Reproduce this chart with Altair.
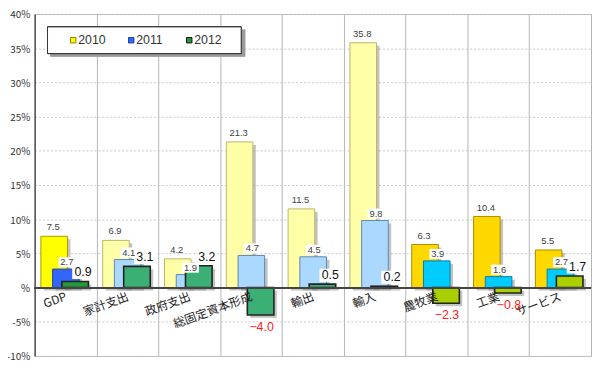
import altair as alt
import pandas as pd

# ---------------- data ----------------
categories = ["GDP", "家計支出", "政府支出", "総固定資本形成", "輸出", "輸入", "農牧業", "工業", "サービス"]
series = ["2010", "2011", "2012"]
v2010 = [7.5, 6.9, 4.2, 21.3, 11.5, 35.8, 6.3, 10.4, 5.5]
v2011 = [2.7, 4.1, 1.9, 4.7, 4.5, 9.8, 3.9, 1.6, 2.7]
v2012 = [0.9, 3.1, 3.2, -4.0, 0.5, 0.2, -2.3, -0.8, 1.7]
y_ticks = [-10, -5, 0, 5, 10, 15, 20, 25, 30, 35, 40]

# ---------------- styles ----------------
group_of = ["A", "B", "B", "B", "B", "B", "C", "C", "C"]
fills = {
    "A": {"2010": "#FFFF00", "2011": "#3366FF", "2012": "#24993A"},
    "B": {"2010": "#FFFFA8", "2011": "#AAD8FF", "2012": "#3BAF74"},
    "C": {"2010": "#FFD800", "2011": "#00CCFF", "2012": "#AACF00"},
}
edges = {
    "A": {"2010": "#A89A00", "2011": "#1F3F99", "2012": "#222222"},
    "B": {"2010": "#BDB56A", "2011": "#5D86B0", "2012": "#222222"},
    "C": {"2010": "#A88C00", "2011": "#0A7EA0", "2012": "#222222"},
}

rows = []
vals = {"2010": v2010, "2011": v2011, "2012": v2012}
for i, c in enumerate(categories):
    for s in series:
        g = group_of[i]
        rows.append({"cat": c, "idx": i, "s": s, "value": vals[s][i],
                     "fill": fills[g][s], "edge": edges[g][s]})
df = pd.DataFrame(rows)

FONT_JP = "Noto Sans CJK JP"
FONT_NUM = "Liberation Sans"

xs = alt.Scale(domain=[0, 9], nice=False, zero=False)
ys = alt.Scale(domain=[-10, 40], nice=False)
x_axis = alt.Axis(values=list(range(10)), grid=True, gridColor="#b5b5b5", gridWidth=1,
                  labels=False, ticks=False, domain=False, title=None)
y_axis = alt.Axis(values=y_ticks, grid=True, gridColor="#c8c8c8", gridDash=[2, 2],
                  labelExpr="datum.value == 0 ? '%' : datum.value + '%'",
                  labelFont=FONT_JP, labelFontSize=10, labelColor="#333333",
                  labelPadding=5, labelOffset=1, ticks=False, domain=True,
                  domainColor="#555555", domainWidth=1.5, title=None)

base = alt.Chart(df).transform_calculate(
    x0="datum.idx + (datum.s == '2010' ? 0.10 : (datum.s == '2011' ? 0.29 : 0.44))",
    x1="datum.x0 + 0.43",
    xc="datum.x0 + 0.215",
    xcat="datum.idx + 0.5",
    label="format(datum.value, '.1f')",
)

X0 = alt.X("x0:Q", scale=xs, axis=x_axis)
X1 = alt.X2("x1:Q")
XC = alt.X("xc:Q", scale=xs, axis=x_axis)
YV = alt.Y("value:Q", scale=ys, axis=y_axis)

# category labels (rotated, at the zero line)
cat_lab = base.transform_filter("datum.s == '2010'").mark_text(
    font=FONT_JP, fontSize=12, color="#222222", align="right", baseline="top",
    angle=340, xOffset=-1, yOffset=4
).encode(x=alt.X("xcat:Q", scale=xs, axis=x_axis), y=alt.datum(0, scale=ys, axis=y_axis),
         text="cat:N")

layers = []
for s in series:
    sub = base.transform_filter(f"datum.s == '{s}'")
    layers.append(sub.mark_bar(color="#7a7a7a", opacity=0.45, xOffset=3, x2Offset=3,
                               yOffset=3, y2Offset=3).encode(
        x=X0, x2=X1, y=YV, y2=alt.datum(0)))
    layers.append(sub.mark_bar(strokeWidth=1.6 if s == "2012" else 1.0).encode(
        x=X0, x2=X1, y=YV, y2=alt.datum(0),
        fill=alt.Fill("fill:N", scale=None),
        stroke=alt.Stroke("edge:N", scale=None)))

zero_rule = alt.Chart(df).mark_rule(color="#444444", strokeWidth=1.2).encode(
    y=alt.datum(0, scale=ys, axis=y_axis))

# value labels
lab10 = base.transform_filter("datum.s == '2010'").mark_text(
    font=FONT_NUM, fontSize=9.5, color="#404040", baseline="middle", yOffset=-9, xOffset=-1
).encode(x=XC, y=YV, text="label:N")

f11 = base.transform_filter("datum.s == '2011'")
box11 = f11.mark_point(shape="M-1,-0.6H1V0.6H-1Z", filled=True, fill="white", opacity=1,
                       strokeWidth=0, size=289, yOffset=-7, xOffset=1).encode(x=XC, y=YV)
lab11 = f11.mark_text(font=FONT_NUM, fontSize=9.5, color="#404040", baseline="middle",
                      yOffset=-7, xOffset=1).encode(x=XC, y=YV, text="label:N")

f12p = base.transform_filter("datum.s == '2012' && datum.value >= 0")
box12p = f12p.mark_point(shape="M-1,-0.6H1V0.6H-1Z", filled=True, fill="white", opacity=1,
                         strokeWidth=0, size=484, yOffset=-9, xOffset=8).encode(x=XC, y=YV)
lab12p = f12p.mark_text(font=FONT_NUM, fontSize=12.5, color="#111111", baseline="middle",
                        yOffset=-9, xOffset=8).encode(x=XC, y=YV, text="label:N")

f12n = base.transform_filter("datum.s == '2012' && datum.value < 0")
lab12n = f12n.mark_text(font=FONT_NUM, fontSize=12.5, color="#FF2020", baseline="middle",
                        yOffset=12, xOffset=1).encode(x=XC, y=YV, text="label:N")

# legend (drawn by hand)
leg_df = pd.DataFrame({"s": series})
leg_shadow = alt.Chart(leg_df).mark_rect(color="#9a9a9a").encode(
    x=alt.value(16), x2=alt.value(213), y=alt.value(16), y2=alt.value(43))
leg_box = alt.Chart(leg_df).mark_rect(fill="white", stroke="#333333", strokeWidth=1).encode(
    x=alt.value(13), x2=alt.value(209), y=alt.value(13), y2=alt.value(40))
leg_layers = [leg_shadow, leg_box]
leg_fill = fills["A"]
leg_edge = {"2010": "#8a7f00", "2011": "#1F3F99", "2012": "#111111"}
for i, s in enumerate(series):
    one = alt.Chart(pd.DataFrame({"s": [s]}))
    leg_layers.append(one.mark_square(size=30, filled=True, fill=leg_fill[s],
                                      stroke=leg_edge[s], strokeWidth=1, opacity=1).encode(
        x=alt.value(39 + 58.7 * i), y=alt.value(26.5)))
    leg_layers.append(one.mark_text(font=FONT_NUM, fontSize=12.5, color="#333333",
                                    align="left", baseline="middle").encode(
        x=alt.value(44 + 58.7 * i), y=alt.value(26.5), text="s:N"))

chart = alt.layer(
    *layers, zero_rule, box11, box12p, cat_lab, lab10, lab11, lab12p, lab12n,
    *leg_layers
).properties(
    width=563, height=346,
    padding={"left": 27, "top": 4, "right": 1, "bottom": 4},
    autosize="none",
    background="white",
).configure_view(stroke="#b5b5b5", strokeWidth=1)

chart.save("out.html", embed_options={"renderer": "svg", "actions": False})
